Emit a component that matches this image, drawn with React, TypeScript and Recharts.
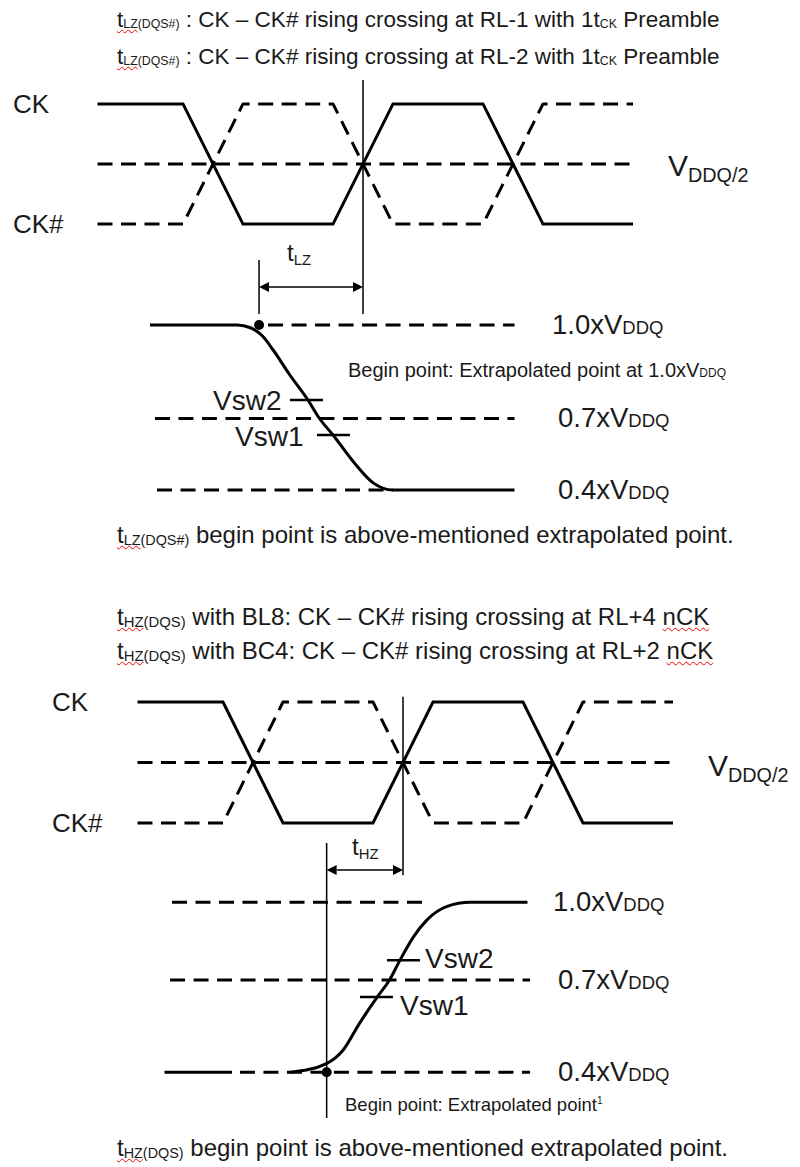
import React from "react";
import { LineChart, Line, XAxis, YAxis, ReferenceLine, ReferenceDot } from "recharts";

// time axis in half clock cycles, CK / CK# crossings at t = 1, 2, 3
const ckTimes = [0.23, 0.8, 1.2, 1.8, 2.2, 2.8, 3.2, 3.8];
const ckLevels = [1, 1, 0, 0, 1, 1, 0, 0];
const ckbLevels = [0, 0, 1, 1, 0, 0, 1, 1];

// tLZ(DQS#): output falling from 1.0 to 0.4 xVDDQ (schematic height)
const lzTimes = [0.58, 1.16, 1.25, 1.33, 1.4, 1.51, 1.63, 1.71, 1.8, 1.94, 2.07, 2.2, 3.01];
const lzLevels = [1.0, 1.0, 0.99, 0.96, 0.91, 0.82, 0.73, 0.66, 0.6, 0.5, 0.425, 0.4, 0.4];
const lzRefLevels = [1.0, 0.66, 0.4];
const lzVsw = [0.727, 0.6]; // Vsw2, Vsw1
const lzVswTimes = [1.623, 1.803];
const lzBegin = { t: 1.307, v: 1.0 };

// tHZ(DQS): output rising from 0.4 to 1.0 xVDDQ
const hzFlatTimes = [0.41, 0.86];
const hzTimes = [1.25, 1.49, 1.6, 1.71, 1.83, 1.91, 1.98, 2.07, 2.16, 2.29, 2.45, 2.83];
const hzLevels = [0.4, 0.431, 0.478, 0.573, 0.667, 0.726, 0.796, 0.878, 0.938, 0.985, 1.0, 1.0];
const hzRefLevels = [1.0, 0.726, 0.4];
const hzVsw = [0.796, 0.666];
const hzVswTimes = [2.003, 1.823];
const hzBegin = { t: 1.491, v: 0.4 };

const crossT = 2;
const levelNames = ["1.0", "0.7", "0.4"];

const DASH = "15 8.5";
const TICK_HALF = 0.11;

const ArrowShape = (p: any) => {
  const xa = Math.min(p.x1, p.x2);
  const xb = Math.max(p.x1, p.x2);
  const y = p.y1;
  const h = 10;
  const w = 5;
  return (
    <g>
      <line x1={xa + h} y1={y} x2={xb - h} y2={y} stroke="#000" strokeWidth={1.5} />
      <polygon points={`${xa},${y} ${xa + h},${y - w} ${xa + h},${y + w}`} fill="#000" />
      <polygon points={`${xb},${y} ${xb - h},${y - w} ${xb - h},${y + w}`} fill="#000" />
    </g>
  );
};

type Layout = {
  top: number;
  height: number;
  left: number;
  clkLo: number;
  clkHi: number;
  refRanges: number[][]; // t ranges of the 1.0 / 0.7 / 0.4 dashed lines
  beginLine: number[];
  crossLine: number[];
  arrowV: number;
};

const topLayout: Layout = {
  top: 50,
  height: 495,
  left: 63,
  clkLo: 1.367,
  clkHi: 1.804,
  refRanges: [[1.367, 3.01], [0.613, 3.01], [0.627, 2.2]],
  beginLine: [1.236, 1.04],
  crossLine: [1.891, 1.04],
  arrowV: 1.138,
};

const botLayout: Layout = {
  top: 619,
  height: 510,
  left: 103,
  clkLo: 1.28,
  clkHi: 1.707,
  refRanges: [[0.46, 2.16], [0.447, 2.847], [0.913, 2.847]],
  beginLine: [1.209, 0.239],
  crossLine: [1.726, 1.096],
  arrowV: 1.114,
};

type WaveProps = {
  layout: Layout;
  waves: { t: number; v: number }[][];
  refLevels: number[];
  vsw: number[];
  vswTimes: number[];
  begin: { t: number; v: number };
};

const TimingChart = ({ layout, waves, refLevels, vsw, vswTimes, begin }: WaveProps) => {
  const clk = (lv: number) => layout.clkLo + lv * (layout.clkHi - layout.clkLo);
  const ck = ckTimes.map((t, i) => ({ t, v: clk(ckLevels[i]) }));
  const ckb = ckTimes.map((t, i) => ({ t, v: clk(ckbLevels[i]) }));
  const mid = clk(0.5);
  return (
    <div style={{ position: "absolute", left: 0, top: layout.top }}>
      <LineChart
        width={800}
        height={layout.height}
        margin={{ top: 0, bottom: 0, left: layout.left, right: 800 - layout.left - 675 }}
      >
        <XAxis type="number" dataKey="t" domain={[0, 4.5]} hide allowDataOverflow />
        <YAxis type="number" domain={[0.2, 2.0]} hide allowDataOverflow />
        <ReferenceLine
          segment={[{ x: ckTimes[0], y: mid }, { x: ckTimes[ckTimes.length - 1], y: mid }]}
          stroke="#000"
          strokeWidth={3}
          strokeDasharray={DASH}
        />
        {refLevels.map((lv, i) => (
          <ReferenceLine
            key={levelNames[i]}
            segment={[{ x: layout.refRanges[i][0], y: lv }, { x: layout.refRanges[i][1], y: lv }]}
            stroke="#000"
            strokeWidth={3}
            strokeDasharray={DASH}
          />
        ))}
        <Line
          data={ckb}
          dataKey="v"
          type="linear"
          stroke="#000"
          strokeWidth={3}
          strokeDasharray={DASH}
          strokeLinejoin="round"
          dot={false}
          isAnimationActive={false}
        />
        <Line
          data={ck}
          dataKey="v"
          type="linear"
          stroke="#000"
          strokeWidth={3}
          dot={false}
          isAnimationActive={false}
        />
        {waves.map((w, i) => (
          <Line
            key={i}
            data={w}
            dataKey="v"
            type="monotone"
            stroke="#000"
            strokeWidth={3}
            dot={false}
            isAnimationActive={false}
          />
        ))}
        {vsw.map((lv, i) => (
          <ReferenceLine
            key={"vsw" + i}
            segment={[{ x: vswTimes[i] - TICK_HALF, y: lv }, { x: vswTimes[i] + TICK_HALF, y: lv }]}
            stroke="#000"
            strokeWidth={2.5}
          />
        ))}
        <ReferenceLine
          segment={[{ x: begin.t, y: layout.beginLine[0] }, { x: begin.t, y: layout.beginLine[1] }]}
          stroke="#000"
          strokeWidth={1.5}
        />
        <ReferenceLine
          segment={[{ x: crossT, y: layout.crossLine[0] }, { x: crossT, y: layout.crossLine[1] }]}
          stroke="#000"
          strokeWidth={1.5}
        />
        <ReferenceLine
          segment={[{ x: begin.t, y: layout.arrowV }, { x: crossT, y: layout.arrowV }]}
          shape={ArrowShape}
        />
        <ReferenceDot x={begin.t} y={begin.v} r={5} fill="#000" stroke="none" />
      </LineChart>
    </div>
  );
};

const FONT = '"Liberation Sans", Arial, sans-serif';

const T = ({ x, y, size, children }: { x: number; y: number; size: number; children: React.ReactNode }) => (
  <div
    style={{
      position: "absolute",
      left: x,
      top: y - size * 0.5,
      fontSize: size,
      lineHeight: 1,
      whiteSpace: "nowrap",
      color: "#1a1a1a",
    }}
  >
    {children}
  </div>
);

const Sub = ({ children, scale = 0.55, drop = 0.12 }: { children: React.ReactNode; scale?: number; drop?: number }) => (
  <span style={{ fontSize: `${scale}em`, position: "relative", top: `${drop}em` }}>{children}</span>
);

const Squiggle = ({ children }: { children: React.ReactNode }) => (
  <span style={{ textDecoration: "underline wavy #e00", textDecorationThickness: 1, textUnderlineOffset: 2 }}>
    {children}
  </span>
);

const Vddq = ({ size }: { size: number }) => (
  <>
    V<span style={{ fontSize: size }}>DDQ</span>
  </>
);

const App = () => {
  const lzWave = lzTimes.map((t, i) => ({ t, v: lzLevels[i] }));
  const hzFlat = hzFlatTimes.map((t) => ({ t, v: 0.4 }));
  const hzWave = hzTimes.map((t, i) => ({ t, v: hzLevels[i] }));
  return (
    <div
      style={{
        position: "absolute",
        left: 0,
        top: 0,
        width: 800,
        height: 1167,
        background: "#fff",
        fontFamily: FONT,
        overflow: "hidden",
      }}
    >
      <TimingChart
        layout={topLayout}
        waves={[lzWave]}
        refLevels={lzRefLevels}
        vsw={lzVsw}
        vswTimes={lzVswTimes}
        begin={lzBegin}
      />
      <TimingChart
        layout={botLayout}
        waves={[hzFlat, hzWave]}
        refLevels={hzRefLevels}
        vsw={hzVsw}
        vswTimes={hzVswTimes}
        begin={hzBegin}
      />

      {/* top section text */}
      <T x={117} y={20} size={22.5}>
        <Squiggle>t<Sub>LZ</Sub></Squiggle><Sub>(DQS#)</Sub> : CK – CK# rising crossing at RL-1 with 1t<Sub>CK</Sub> Preamble
      </T>
      <T x={117} y={57} size={22.5}>
        <Squiggle>t<Sub>LZ</Sub></Squiggle><Sub>(DQS#)</Sub> : CK – CK# rising crossing at RL-2 with 1t<Sub>CK</Sub> Preamble
      </T>
      <T x={13} y={104} size={26}>CK</T>
      <T x={13} y={224} size={26}>CK#</T>
      <T x={668} y={166} size={30}>
        V<Sub scale={0.66} drop={0.3}>DDQ/2</Sub>
      </T>
      <T x={287} y={253} size={24}>
        t<Sub scale={0.62} drop={0.25}>LZ</Sub>
      </T>
      <T x={552} y={325} size={27.5}>1.0x<Vddq size={18.5} /></T>
      <T x={348} y={370} size={20}>
        Begin point: Extrapolated point at 1.0x<Vddq size={12} />
      </T>
      <T x={213} y={401} size={28}>Vsw2</T>
      <T x={235} y={437} size={28}>Vsw1</T>
      <T x={558} y={418} size={27.5}>0.7x<Vddq size={18.5} /></T>
      <T x={558} y={490} size={27.5}>0.4x<Vddq size={18.5} /></T>
      <T x={117} y={535} size={24}>
        <Squiggle>t<Sub scale={0.6}>LZ</Sub></Squiggle><Sub scale={0.6}>(DQS#)</Sub> begin point is above-mentioned extrapolated point.
      </T>

      {/* bottom section text */}
      <T x={117} y={617} size={24}>
        <Squiggle>t<Sub scale={0.62}>HZ</Sub></Squiggle><Sub scale={0.62}>(DQS)</Sub> with BL8: CK – CK# rising crossing at RL+4 <Squiggle>nCK</Squiggle>
      </T>
      <T x={117} y={651} size={24}>
        <Squiggle>t<Sub scale={0.62}>HZ</Sub></Squiggle><Sub scale={0.62}>(DQS)</Sub> with BC4: CK – CK# rising crossing at RL+2 <Squiggle>nCK</Squiggle>
      </T>
      <T x={52} y={702} size={26}>CK</T>
      <T x={52} y={823} size={26}>CK#</T>
      <T x={708} y={766} size={30}>
        V<Sub scale={0.66} drop={0.3}>DDQ/2</Sub>
      </T>
      <T x={352} y={847} size={24}>
        t<Sub scale={0.62} drop={0.25}>HZ</Sub>
      </T>
      <T x={553} y={902} size={27.5}>1.0x<Vddq size={18.5} /></T>
      <T x={425} y={959} size={28}>Vsw2</T>
      <T x={558} y={980} size={27.5}>0.7x<Vddq size={18.5} /></T>
      <T x={400} y={1006} size={28}>Vsw1</T>
      <T x={558} y={1072} size={27.5}>0.4x<Vddq size={18.5} /></T>
      <T x={345} y={1105} size={18.5}>
        Begin point: Extrapolated point<sup style={{ fontSize: 10 }}>1</sup>
      </T>
      <T x={117} y={1148} size={24}>
        <Squiggle>t<Sub scale={0.6}>HZ</Sub></Squiggle><Sub scale={0.6}>(DQS)</Sub> begin point is above-mentioned extrapolated point.
      </T>
    </div>
  );
};

export default App;
